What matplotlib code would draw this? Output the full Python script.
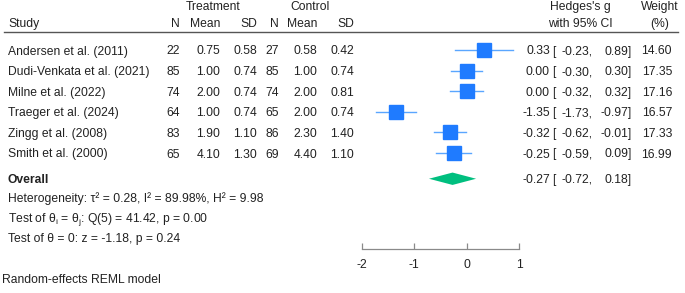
import matplotlib
matplotlib.use('Agg')
import matplotlib.pyplot as plt

# Data
studies = ['Andersen et al. (2011)', 'Dudi-Venkata et al. (2021)', 'Milne et al. (2022)',
           'Traeger et al. (2024)', 'Zingg et al. (2008)', 'Smith et al. (2000)']
n_t = [22, 85, 74, 64, 83, 65]
mean_t = [0.75, 1.00, 2.00, 1.00, 1.90, 4.10]
sd_t = [0.58, 0.74, 0.74, 0.74, 1.10, 1.30]
n_c = [27, 85, 74, 65, 86, 69]
mean_c = [0.58, 1.00, 2.00, 2.00, 2.30, 4.40]
sd_c = [0.42, 0.74, 0.81, 0.74, 1.40, 1.10]
g = [0.33, 0.00, 0.00, -1.35, -0.32, -0.25]
ci_lo = [-0.23, -0.30, -0.32, -1.73, -0.62, -0.59]
ci_hi = [0.89, 0.30, 0.32, -0.97, -0.01, 0.09]
weight = [14.60, 17.35, 17.16, 16.57, 17.33, 16.99]
overall_g, overall_lo, overall_hi = -0.27, -0.72, 0.18
xticks = [-2, -1, 0, 1]

plt.rcParams['font.family'] = ['Liberation Sans', 'DejaVu Sans']
plt.rcParams['axes.unicode_minus'] = False
fs = 8.7
col = '#222222'

W, H = 685, 293
fig = plt.figure(figsize=(W / 100, H / 100), dpi=100)

# Full-figure axes in pixel units for the table text
tab = fig.add_axes([0, 0, 1, 1])
tab.set_xlim(0, W)
tab.set_ylim(H, 0)
tab.axis('off')

# Forest axes: -2..1 spans pixels 362..519, bottom spine at y=249
row0, step = 50.0, 20.6
top_px, bot_px = 40, 249
x0_px, x1_px = 362, 519
fax = fig.add_axes([x0_px / W, 1 - bot_px / H, (x1_px - x0_px) / W, (bot_px - top_px) / H])
fax.set_xlim(-2, 1)
fax.set_ylim((bot_px - row0) / step, (top_px - row0) / step)
fax.patch.set_alpha(0)
for s in ['top', 'left', 'right']:
    fax.spines[s].set_visible(False)
fax.spines['bottom'].set_color('#8a8a8a')
fax.spines['bottom'].set_linewidth(0.9)
fax.set_yticks([])
fax.set_xticks(xticks)
fax.set_xticklabels([str(t) for t in xticks])
fax.tick_params(axis='x', direction='in', length=4, width=0.9, color='#8a8a8a',
                labelsize=fs, labelcolor=col, pad=7)

rows = list(range(len(studies)))
overall_row = 6.25

for i in rows:
    fax.plot([ci_lo[i], ci_hi[i]], [i, i], color='#5aa6ff', lw=1.0, zorder=2)
fax.plot(g, rows, 's', color='#1f7bff', markersize=9.5, zorder=3)

hd = 0.3
fax.fill([overall_lo, overall_g, overall_hi, overall_g],
         [overall_row, overall_row - hd, overall_row, overall_row + hd],
         color='#00bf7f', lw=0, zorder=3)

# Headers
tab.text(213, 7, 'Treatment', ha='center', va='center', fontsize=fs, color=col)
tab.text(310, 7, 'Control', ha='center', va='center', fontsize=fs, color=col)
tab.text(580, 7, "Hedges's g", ha='center', va='center', fontsize=fs, color=col)
tab.text(660, 7, 'Weight', ha='center', va='center', fontsize=fs, color=col)
tab.text(8, 24, 'Study', ha='left', va='center', fontsize=fs, color=col)
num_x = [180, 220, 257, 279, 317, 354]
for x, lab in zip(num_x, ['N', 'Mean', 'SD', 'N', 'Mean', 'SD']):
    tab.text(x, 24, lab, ha='right', va='center', fontsize=fs, color=col)
tab.text(580, 24, 'with 95% CI', ha='center', va='center', fontsize=fs, color=col)
tab.text(660, 24, '(%)', ha='center', va='center', fontsize=fs, color=col)
tab.plot([4, 678], [32, 32], color='#555555', lw=1.0)


def ci_text(y, est, lo, hi):
    tab.text(550, y, f'{est:.2f}', ha='right', va='center', fontsize=fs, color=col)
    tab.text(552, y, '[', ha='left', va='center', fontsize=fs, color=col)
    tab.text(593, y, f'{lo:.2f},', ha='right', va='center', fontsize=fs, color=col)
    tab.text(632, y, f'{hi:.2f}]', ha='right', va='center', fontsize=fs, color=col)


for i in rows:
    y = row0 + step * i + 1.5
    tab.text(8, y, studies[i], ha='left', va='center', fontsize=fs, color=col)
    vals = [str(n_t[i]), f'{mean_t[i]:.2f}', f'{sd_t[i]:.2f}',
            str(n_c[i]), f'{mean_c[i]:.2f}', f'{sd_c[i]:.2f}']
    for x, v in zip(num_x, vals):
        tab.text(x, y, v, ha='right', va='center', fontsize=fs, color=col)
    ci_text(y, g[i], ci_lo[i], ci_hi[i])
    tab.text(672, y, f'{weight[i]:.2f}', ha='right', va='center', fontsize=fs, color=col)

yo = row0 + step * overall_row + 1
tab.text(8, yo, 'Overall', ha='left', va='center', fontsize=fs, color=col, fontweight='bold')
ci_text(yo, overall_g, overall_lo, overall_hi)

tab.text(8, 199, 'Heterogeneity: τ² = 0.28, I² = 89.98%, H² = 9.98',
         ha='left', va='center', fontsize=fs, color=col)
tab.text(8, 219, r'Test of θ$_\mathregular{i}$ = θ$_\mathregular{j}$: Q(5) = 41.42, p = 0.00',
         ha='left', va='center', fontsize=fs, color=col)
tab.text(8, 239, 'Test of θ = 0: z = -1.18, p = 0.24',
         ha='left', va='center', fontsize=fs, color=col)
tab.text(2, 280, 'Random-effects REML model', ha='left', va='center', fontsize=fs, color=col)

plt.savefig('out.png', dpi=100)
